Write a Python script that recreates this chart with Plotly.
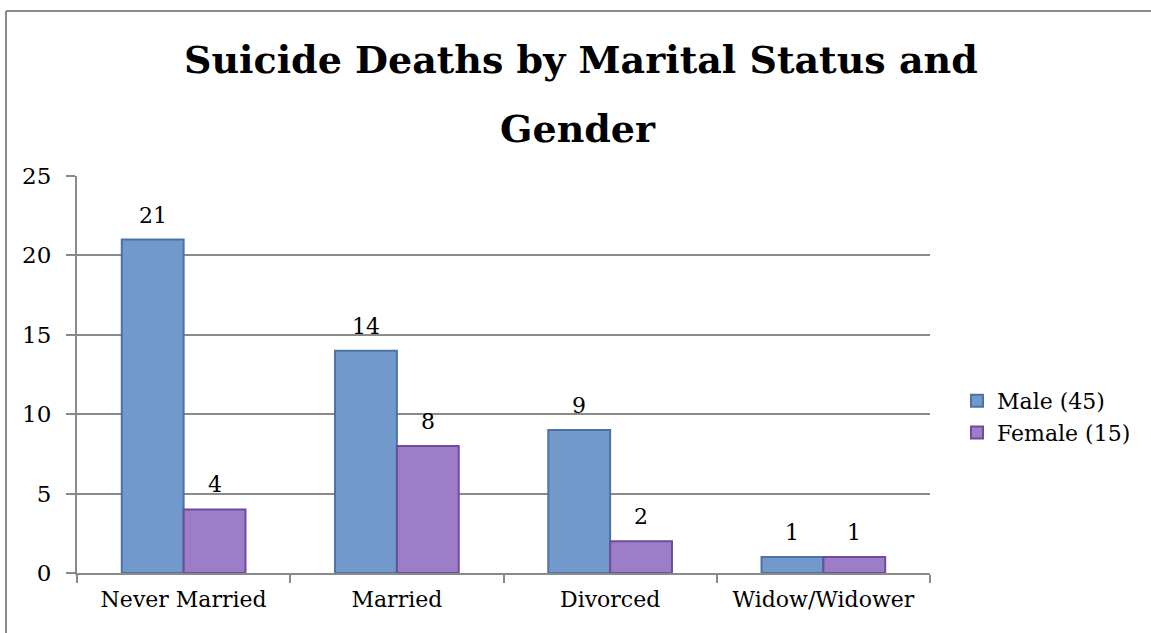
import plotly.graph_objects as go

categories = ["Never Married", "Married", "Divorced", "Widow/Widower"]
male = [21, 14, 9, 1]
female = [4, 8, 2, 1]
series_names = ["Male (45)", "Female (15)"]
title_lines = ["Suicide Deaths by Marital Status and", "Gender"]
y_ticks = [0, 5, 10, 15, 20, 25]

FONT = "DejaVu Serif"
L, R, T, B = 77, 221, 176, 60
W, H = 1151, 633
pw, ph = W - L - R, H - T - B
BARGAP = 0.42
half_bar = (1 - BARGAP) / 4  # offset of each bar centre from the category centre

fig = go.Figure()
fig.add_trace(go.Bar(
    x=categories, y=male, name=series_names[0],
    marker=dict(color="#7199CC", line=dict(color="#4D73A3", width=2)),
))
fig.add_trace(go.Bar(
    x=categories, y=female, name=series_names[1],
    marker=dict(color="#9D7CC8", line=dict(color="#6C4D98", width=2)),
))


def px_x(x):
    return (x - L) / pw


def px_y(y):
    return (H - B - y) / ph


shapes = [
    dict(type="line", xref="paper", yref="paper", x0=px_x(6), x1=px_x(W + 5),
         y0=px_y(11), y1=px_y(11), line=dict(color="#8a8a8a", width=2)),
    dict(type="line", xref="paper", yref="paper", x0=px_x(6), x1=px_x(6),
         y0=px_y(11), y1=px_y(H + 5), line=dict(color="#8a8a8a", width=2)),
]

annotations = [
    dict(text="<b>%s</b>" % title_lines[0], xref="paper", yref="paper",
         x=px_x(581), y=px_y(60), xanchor="center", yanchor="middle",
         showarrow=False, font=dict(family=FONT, size=38, color="#000")),
    dict(text="<b>%s</b>" % title_lines[1], xref="paper", yref="paper",
         x=px_x(578), y=px_y(128), xanchor="center", yanchor="middle",
         showarrow=False, font=dict(family=FONT, size=38, color="#000")),
]

for vals, sign in ((male, -1), (female, 1)):
    for i, v in enumerate(vals):
        annotations.append(dict(
            text=str(v), xref="x", yref="y", x=i + sign * half_bar, y=v,
            xanchor="center", yanchor="bottom", yshift=10, showarrow=False,
            font=dict(family=FONT, size=22, color="#000"),
        ))

fig.update_layout(
    width=W, height=H,
    margin=dict(l=L, r=R, t=T, b=B, pad=0, autoexpand=False),
    paper_bgcolor="white", plot_bgcolor="white",
    barmode="group", bargap=BARGAP, bargroupgap=0,
    font=dict(family=FONT, size=20, color="#000"),
    shapes=shapes, annotations=annotations,
    legend=dict(x=px_x(957), y=px_y(380), xanchor="left", yanchor="top",
                font=dict(family=FONT, size=22, color="#000"),
                itemwidth=30, tracegroupgap=0, bgcolor="rgba(0,0,0,0)"),
    showlegend=True,
)
fig.update_xaxes(
    type="category", showline=True, linecolor="#8a8a8a", linewidth=2,
    ticks="outside", tickson="boundaries", ticklen=8, tickcolor="#8a8a8a", tickwidth=2,
    tickfont=dict(family=FONT, size=22, color="#000"), showgrid=False,
    ticklabelstandoff=6,
)
fig.update_yaxes(
    range=[0, 25], tickvals=y_ticks, showline=True, linecolor="#8a8a8a", linewidth=2,
    ticks="outside", ticklen=9, tickcolor="#8a8a8a", tickwidth=2,
    showgrid=True, gridcolor="#8a8a8a", gridwidth=1.5, zeroline=False,
    tickfont=dict(family=FONT, size=23, color="#000"), ticklabelstandoff=10,
)

fig.write_html("out.html", config={"displayModeBar": False})

with open("out.html", encoding="utf-8") as f:
    html = f.read()
html = html.replace("<head>", "<head><style>html,body{margin:0;padding:0;}</style>", 1)
with open("out.html", "w", encoding="utf-8") as f:
    f.write(html)
